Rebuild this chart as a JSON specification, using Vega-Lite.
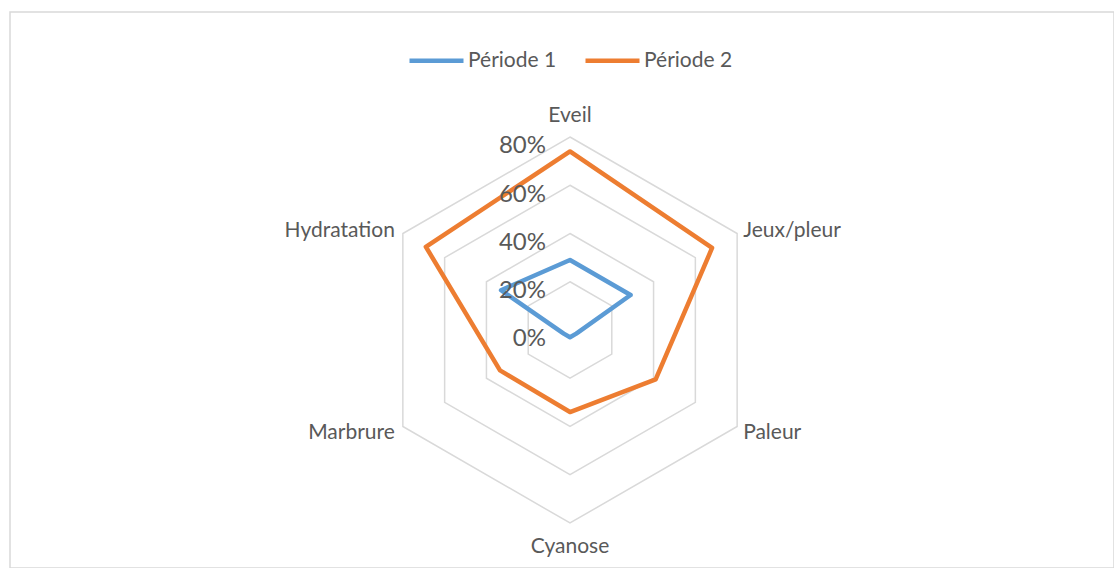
{
  "$schema": "https://vega.github.io/schema/vega-lite/v6.json",
  "width": 1104,
  "height": 556,
  "padding": {"left": 10, "top": 12, "right": 0, "bottom": 0},
  "autosize": {"type": "none"},
  "background": "white",
  "config": {
    "view": {"stroke": "#d9d9d9", "strokeWidth": 1.5},
    "font": "Lato"
  },
  "datasets": {
    "series": [
      {"categorie": "Eveil", "periode": "Période 1", "valeur": 0.29},
      {"categorie": "Jeux/pleur", "periode": "Période 1", "valeur": 0.29},
      {"categorie": "Paleur", "periode": "Période 1", "valeur": 0.03},
      {"categorie": "Cyanose", "periode": "Période 1", "valeur": 0.03},
      {"categorie": "Marbrure", "periode": "Période 1", "valeur": 0.03},
      {"categorie": "Hydratation", "periode": "Période 1", "valeur": 0.33},
      {"categorie": "Eveil", "periode": "Période 2", "valeur": 0.74},
      {"categorie": "Jeux/pleur", "periode": "Période 2", "valeur": 0.68},
      {"categorie": "Paleur", "periode": "Période 2", "valeur": 0.41},
      {"categorie": "Cyanose", "periode": "Période 2", "valeur": 0.34},
      {"categorie": "Marbrure", "periode": "Période 2", "valeur": 0.335},
      {"categorie": "Hydratation", "periode": "Période 2", "valeur": 0.69}
    ],
    "grille": [
      {"niveau": 0.2, "categorie": ["Eveil", "Jeux/pleur", "Paleur", "Cyanose", "Marbrure", "Hydratation"]},
      {"niveau": 0.4, "categorie": ["Eveil", "Jeux/pleur", "Paleur", "Cyanose", "Marbrure", "Hydratation"]},
      {"niveau": 0.6, "categorie": ["Eveil", "Jeux/pleur", "Paleur", "Cyanose", "Marbrure", "Hydratation"]},
      {"niveau": 0.8, "categorie": ["Eveil", "Jeux/pleur", "Paleur", "Cyanose", "Marbrure", "Hydratation"]}
    ],
    "graduations": [
      {"niveau": 0, "libelle": "0%"},
      {"niveau": 0.2, "libelle": "20%"},
      {"niveau": 0.4, "libelle": "40%"},
      {"niveau": 0.6, "libelle": "60%"},
      {"niveau": 0.8, "libelle": "80%"}
    ]
  },
  "layer": [
    {
      "data": {"name": "grille"},
      "transform": [
        {"flatten": ["categorie"]},
        {"calculate": "indexof(['Eveil','Jeux/pleur','Paleur','Cyanose','Marbrure','Hydratation'], datum.categorie)", "as": "idx"},
        {"calculate": "datum.idx * PI / 3", "as": "ang"},
        {"calculate": "datum.niveau * sin(datum.ang)", "as": "px"},
        {"calculate": "datum.niveau * cos(datum.ang)", "as": "py"}
      ],
      "mark": {"type": "line", "interpolate": "linear-closed", "stroke": "#d9d9d9", "strokeWidth": 1.5},
      "encoding": {
        "x": {"field": "px", "type": "quantitative", "scale": {"domain": [-2.32124, 2.25492], "nice": false, "zero": false}, "axis": null},
        "y": {"field": "py", "type": "quantitative", "scale": {"domain": [-0.98653, 1.31813], "nice": false, "zero": false}, "axis": null},
        "detail": {"field": "niveau", "type": "nominal"},
        "order": {"field": "idx", "type": "quantitative"}
      }
    },
    {
      "data": {"name": "series"},
      "transform": [
        {"calculate": "indexof(['Eveil','Jeux/pleur','Paleur','Cyanose','Marbrure','Hydratation'], datum.categorie)", "as": "idx"},
        {"calculate": "datum.idx * PI / 3", "as": "ang"},
        {"calculate": "datum.valeur * sin(datum.ang)", "as": "px"},
        {"calculate": "datum.valeur * cos(datum.ang)", "as": "py"}
      ],
      "mark": {"type": "line", "interpolate": "linear-closed", "strokeWidth": 4.5, "strokeJoin": "round"},
      "encoding": {
        "x": {"field": "px", "type": "quantitative"},
        "y": {"field": "py", "type": "quantitative"},
        "order": {"field": "idx", "type": "quantitative"},
        "color": {
          "field": "periode",
          "type": "nominal",
          "scale": {"domain": ["Période 1", "Période 2"], "range": ["#5B9BD5", "#ED7D31"]},
          "legend": {
            "orient": "none",
            "legendX": 397,
            "legendY": 19,
            "direction": "horizontal",
            "title": null,
            "padding": 0,
            "symbolType": "M-1,0H1",
            "symbolSize": 2916,
            "symbolStrokeWidth": 4.5,
            "labelFont": "Lato",
            "labelFontSize": 21,
            "labelColor": "#595959",
            "labelOffset": 2,
            "columnPadding": 19
          }
        }
      }
    },
    {
      "data": {"name": "series"},
      "transform": [
        {"filter": "datum.periode === 'Période 1'"},
        {"calculate": "indexof(['Eveil','Jeux/pleur','Paleur','Cyanose','Marbrure','Hydratation'], datum.categorie)", "as": "idx"},
        {"calculate": "datum.idx * PI / 3", "as": "ang"},
        {"calculate": "sin(datum.ang)", "as": "s"},
        {"calculate": "cos(datum.ang)", "as": "c"},
        {"calculate": "0.8 * datum.s + (datum.s > 0.1 ? 6 : datum.s < -0.1 ? -8 : 0) / 241.25", "as": "lx"},
        {"calculate": "0.8 * datum.c + (datum.c > 0.9 ? 15 : datum.c < -0.9 ? -30 : datum.c > 0 ? -3.5 : -12.5) / 241.25", "as": "ly"}
      ],
      "mark": {
        "type": "text",
        "font": "Lato",
        "fontSize": 21,
        "fill": "#595959",
        "baseline": "alphabetic",
        "align": {"expr": "datum.s > 0.1 ? 'left' : datum.s < -0.1 ? 'right' : 'center'"}
      },
      "encoding": {
        "x": {"field": "lx", "type": "quantitative"},
        "y": {"field": "ly", "type": "quantitative"},
        "text": {"field": "categorie", "type": "nominal"}
      }
    },
    {
      "data": {"name": "graduations"},
      "mark": {"type": "text", "font": "Lato", "fontSize": 24, "fill": "#595959", "align": "right", "baseline": "alphabetic", "dx": -24, "dy": 16.5},
      "encoding": {
        "x": {"datum": 0, "type": "quantitative"},
        "y": {"field": "niveau", "type": "quantitative"},
        "text": {"field": "libelle", "type": "nominal"}
      }
    }
  ]
}
